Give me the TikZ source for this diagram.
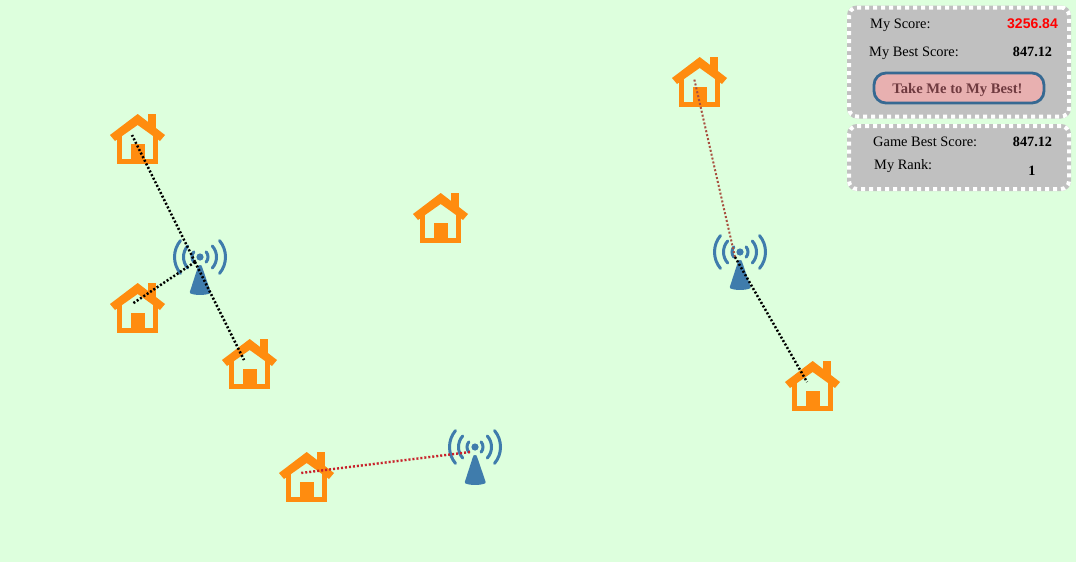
\documentclass[tikz,border=0pt]{standalone}
\usepackage{fontspec}
\setmainfont{Liberation Serif}
\newfontfamily\scorefont{Liberation Sans}
\definecolor{lawn}{HTML}{DDFFDD}
\definecolor{panelgray}{HTML}{C0C0C0}
\definecolor{roofcolor}{HTML}{FF8C0F}
\definecolor{towercolor}{HTML}{3F7CAC}
\definecolor{buttonfill}{HTML}{E8B0B0}
\definecolor{buttontext}{HTML}{6F3A3F}
\definecolor{linkred}{HTML}{C8202A}
\definecolor{linkpale}{HTML}{A85040}
\tikzset{%
  panel/.style = {rectangle,draw=white,line width=4pt,fill=panelgray,
        dash pattern=on 4pt off 4pt,rounded corners=8pt,inner sep=0pt,
        preaction={draw=panelgray,solid},minimum width=220pt},
  label/.style = {font=\fontsize{14.4}{16}\selectfont,anchor=base west,inner sep=0pt},
  value/.style = {font=\fontsize{14.2}{16}\selectfont\bfseries,anchor=base,inner sep=0pt},
  button/.style = {rectangle,draw=towercolor!85!black,line width=2.8pt,fill=buttonfill,
        rounded corners=12pt,minimum width=170pt,minimum height=30pt,
        text height=10pt,text depth=0pt,
        text=buttontext,font=\fontsize{14.6}{16}\selectfont\bfseries},
  blacklink/.style = {draw=black,line width=2.5pt,dash pattern=on 2pt off 2pt},
  redlink/.style = {draw=linkred,line width=2.4pt,dash pattern=on 2pt off 2pt},
  palelink/.style = {draw=linkpale,line width=2pt,dash pattern=on 2pt off 2pt},
  house/.pic = {
    \draw[roofcolor,line width=5.4pt] (-12.3,1) -- (-12.3,26.3) -- (23.3,26.3) -- (23.3,1);
    \fill[roofcolor] (-1,9) rectangle (13,27);
    \fill[roofcolor] (16,-21) rectangle (24,-6);
    \fill[roofcolor] (-22,0) -- (5.7,-21) -- (33,0) -- (28,6) -- (5.7,-10) -- (-17,6) -- cycle;
  },
  tower/.pic = {
    \fill[towercolor] (5,-5) circle[radius=3.6pt];
    \fill[towercolor,rounded corners=1pt] (3.2,4) -- (4,3) -- (6,3) -- (6.8,4) -- (16,31)
        .. controls (10,33.5) and (0,33.5) .. (-5.5,31) -- cycle;
    \draw[towercolor,line width=3pt,line cap=round]
      (5,-5) ++(-40:8pt) arc[start angle=-40,end angle=40,radius=8pt]
      (5,-5) ++(220:8pt) arc[start angle=220,end angle=140,radius=8pt]
      (5,-5) ++(-42:16.5pt) arc[start angle=-42,end angle=42,radius=16.5pt]
      (5,-5) ++(222:16.5pt) arc[start angle=222,end angle=138,radius=16.5pt]
      (5,-5) ++(-40:25.5pt) arc[start angle=-40,end angle=40,radius=25.5pt]
      (5,-5) ++(220:25.5pt) arc[start angle=220,end angle=140,radius=25.5pt];
  }
}
\begin{document}
\begin{tikzpicture}[x=1pt,y=-1pt]
   \fill[lawn] (0,0) rectangle (1076,562);

   \path (132,135) coordinate (house1) pic {house};
   \path (132,304) coordinate (house2) pic {house};
   \path (244,360) coordinate (house3) pic {house};
   \path (301,473) coordinate (house4) pic {house};
   \path (435,214) coordinate (house5) pic {house};
   \path (694,78) coordinate (house6) pic {house};
   \path (807,382) coordinate (house7) pic {house};

   \path (195,262) coordinate (tower1) pic {tower};
   \path (735,257) coordinate (tower2) pic {tower};
   \path (470,452) coordinate (tower3) pic {tower};

   \draw[blacklink] (tower1) -- (house1);
   \draw[blacklink] (tower1) -- (house2);
   \draw[blacklink] (tower1) -- (house3);
   \draw[redlink] (tower3) -- (house4);
   \draw[palelink] (tower2) -- (house6);
   \draw[blacklink] (tower2) -- (house7);

   % score panels
   \node[panel,minimum height=109pt] (mypanel) at (959,62) {};
   \node[panel,minimum height=63pt] (gamepanel) at (959,157.5) {};

   \node[label] (myscore) at (870,28) {My Score:};
   \node[value,anchor=base east,text=red,font=\scorefont\fontsize{14}{16}\selectfont\bfseries] (myscorevalue) at (1058,28) {3256.84};
   \node[label] (mybest) at (869,56) {My Best Score:};
   \node[value] (mybestvalue) at (1032.5,56) {847.12};
   \node[button] (takeme) at (959,88) {\hspace*{-3pt}Take Me to My Best!};
   \node[label] (gamebest) at (873,146) {Game Best Score:};
   \node[value] (gamebestvalue) at (1032.5,146) {847.12};
   \node[label] (myrank) at (874,169) {My Rank:};
   \node[value] (myrankvalue) at (1032,175) {1};
\end{tikzpicture}
\end{document}
